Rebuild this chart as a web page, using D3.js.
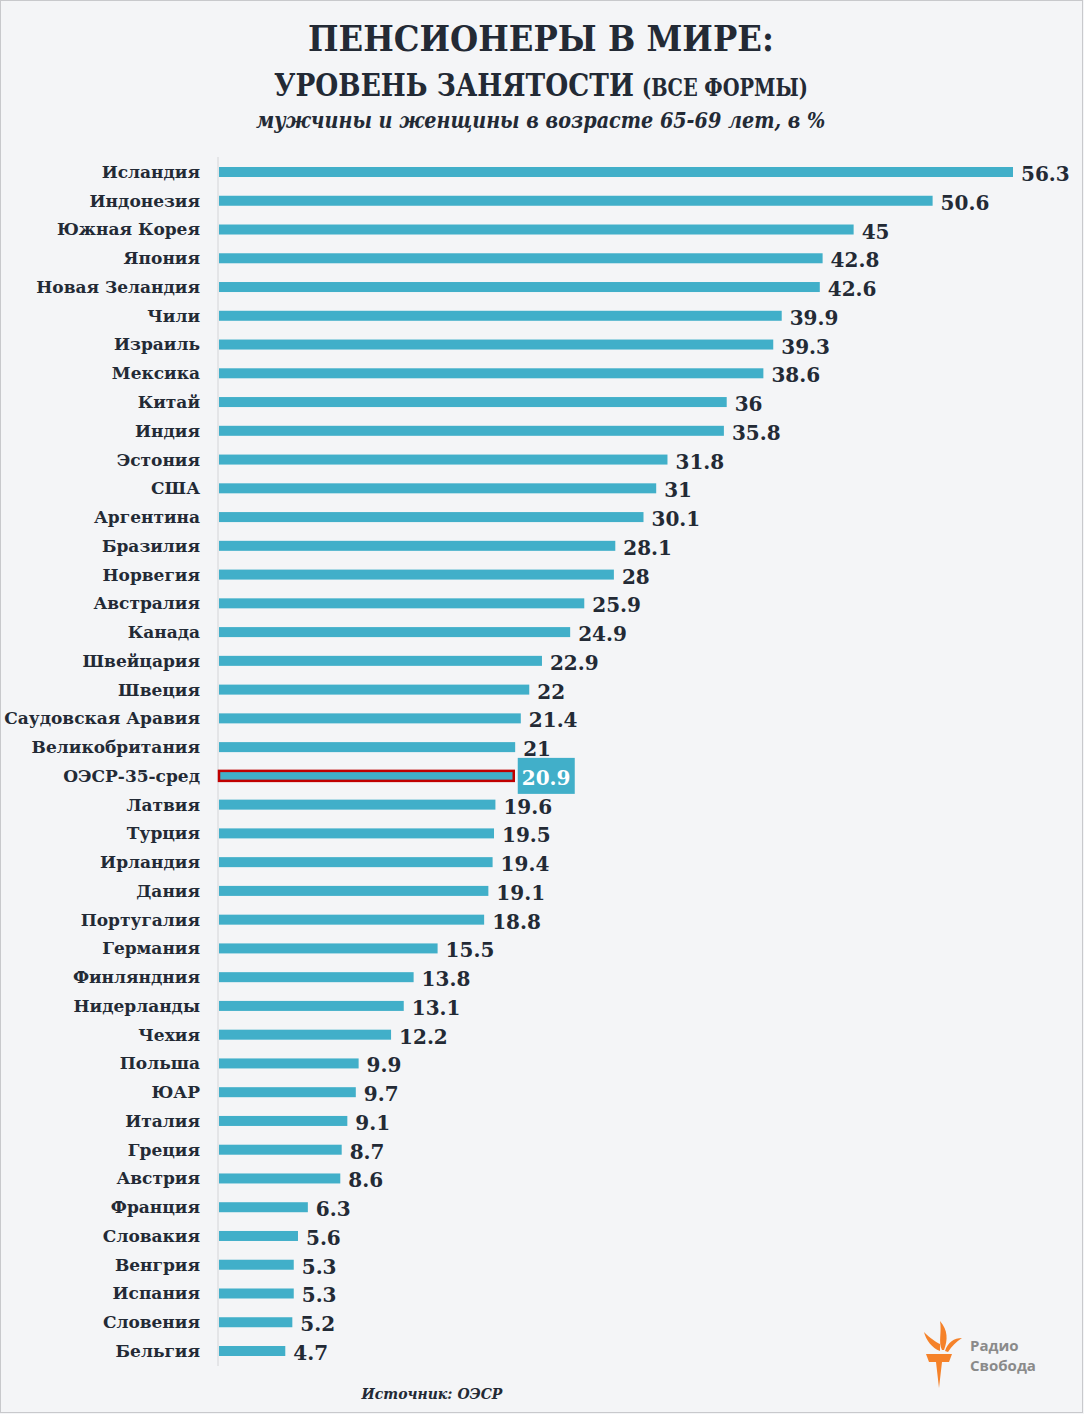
<!DOCTYPE html>
<html lang="ru">
<head>
<meta charset="UTF-8">
<title>Пенсионеры в мире</title>
<style>
  body { margin: 0; background: #f4f5f7; }
  svg { display: block; }
  .cat { font-family: "DejaVu Serif", serif; font-weight: bold; font-size: 17px; fill: #232a35; }
  .val { font-family: "DejaVu Serif", serif; font-weight: bold; font-size: 20px; fill: #232a35; }
</style>
</head>
<body>
<div id="chart"></div>
<script src="https://d3js.org/d3.v7.min.js"></script>
<script>
const countries = ["Исландия","Индонезия","Южная Корея","Япония","Новая Зеландия","Чили","Израиль","Мексика","Китай","Индия","Эстония","США","Аргентина","Бразилия","Норвегия","Австралия","Канада","Швейцария","Швеция","Саудовская Аравия","Великобритания","ОЭСР-35-сред","Латвия","Турция","Ирландия","Дания","Португалия","Германия","Финляндния","Нидерланды","Чехия","Польша","ЮАР","Италия","Греция","Австрия","Франция","Словакия","Венгрия","Испания","Словения","Бельгия"];
const values = [56.3,50.6,45,42.8,42.6,39.9,39.3,38.6,36,35.8,31.8,31,30.1,28.1,28,25.9,24.9,22.9,22,21.4,21,20.9,19.6,19.5,19.4,19.1,18.8,15.5,13.8,13.1,12.2,9.9,9.7,9.1,8.7,8.6,6.3,5.6,5.3,5.3,5.2,4.7];
const highlight = "ОЭСР-35-сред";

const width = 1084, height = 1414;
const left = 219;
const barColor = "#41afc9";
const barH = 10;

const svg = d3.select("#chart").append("svg")
  .attr("width", width)
  .attr("height", height);

// background + frame
svg.append("rect")
  .attr("x", 0.5).attr("y", 0.5)
  .attr("width", width - 2).attr("height", height - 2)
  .attr("fill", "#f4f5f7")
  .attr("stroke", "#c8c9cc");

const data = countries.map((c, i) => ({name: c, value: values[i]}));

const x = d3.scaleLinear().domain([0, 56.3]).range([left, 1013]);
// row centres
const y = d3.scalePoint().domain(countries).range([172, 1351]);

// titles: squeeze horizontally to the reference widths
const title = svg.append("g").attr("fill", "#232a35")
  .style("font-family", "'DejaVu Serif', serif").style("font-weight", "bold");

function squeezed(txt, size, x0, y0, w, italic) {
  const t = title.append("text").style("font-size", size + "px").text(txt);
  if (italic) t.style("font-style", "italic");
  const sx = w / t.node().getComputedTextLength();
  t.attr("transform", `translate(${x0},${y0}) scale(${sx},1)`);
}
squeezed("ПЕНСИОНЕРЫ В МИРЕ:", 36, 308, 51, 466);
squeezed("УРОВЕНЬ ЗАНЯТОСТИ", 31, 274, 96, 360);
squeezed("(ВСЕ ФОРМЫ)", 25, 642, 96, 166);
squeezed("мужчины и женщины в возрасте 65-69 лет, в %", 22, 256, 128, 570, true);

// axis line
svg.append("line")
  .attr("x1", left - 1).attr("x2", left - 1)
  .attr("y1", 157).attr("y2", 1366)
  .attr("stroke", "#d4d5d8").attr("stroke-width", 1);

// category labels
svg.append("g").selectAll("text")
  .data(data).join("text")
  .attr("class", "cat")
  .attr("x", 200)
  .attr("y", d => y(d.name))
  .attr("dy", "0.35em")
  .attr("text-anchor", "end")
  .text(d => d.name);

// bars
svg.append("g").selectAll("rect")
  .data(data).join("rect")
  .attr("x", x(0))
  .attr("y", d => y(d.name) - barH / 2)
  .attr("width", d => x(d.value) - x(0))
  .attr("height", barH)
  .attr("fill", barColor)
  .attr("stroke", d => d.name === highlight ? "#c00000" : "none")
  .attr("stroke-width", 2.5);

// highlight label box
const hd = data.find(d => d.name === highlight);
svg.append("rect")
  .attr("x", x(hd.value) + 4)
  .attr("y", y(hd.name) - 18)
  .attr("width", 57).attr("height", 36)
  .attr("fill", barColor);

// values
svg.append("g").selectAll("text")
  .data(data).join("text")
  .attr("class", "val")
  .attr("x", d => x(d.value) + 8)
  .attr("y", d => y(d.name) + 2)
  .attr("dy", "0.35em")
  .style("fill", d => d.name === highlight ? "#fff" : null)
  .text(d => d.value);

// source
svg.append("text")
  .attr("x", 432).attr("y", 1399)
  .attr("text-anchor", "middle")
  .style("font-family", "'DejaVu Serif', serif").style("font-weight", "bold")
  .style("font-style", "italic").style("font-size", "14px").attr("fill", "#232a35")
  .text("Источник: ОЭСР");

// logo
const logo = svg.append("g").attr("transform", "translate(922,1318)");
logo.append("path")
  .attr("d", "M4 36 L30 36 L27 44 L20 44 L17 70 L14 44 L7 44 Z")
  .attr("fill", "#f5822a");
logo.append("path")
  .attr("d", "M18 33 C 10 30 4 22 2 14 C 8 20 14 24 18 26 Z")
  .attr("fill", "#f5822a");
logo.append("path")
  .attr("d", "M20 32 C 16 24 20 14 18 3 C 26 12 26 22 22 32 Z")
  .attr("fill", "#f5822a");
logo.append("path")
  .attr("d", "M23 33 C 26 24 32 20 40 20 C 34 24 30 28 26 34 Z")
  .attr("fill", "#f5822a");
const lt = logo.append("g")
  .style("font-family", "'Open Sans', sans-serif").style("font-weight", "bold")
  .style("font-size", "15px").attr("fill", "#8a8a8a");
lt.append("text").attr("x", 48).attr("y", 33).text("Радио");
lt.append("text").attr("x", 48).attr("y", 53).text("Свобода");
</script>
</body>
</html>
